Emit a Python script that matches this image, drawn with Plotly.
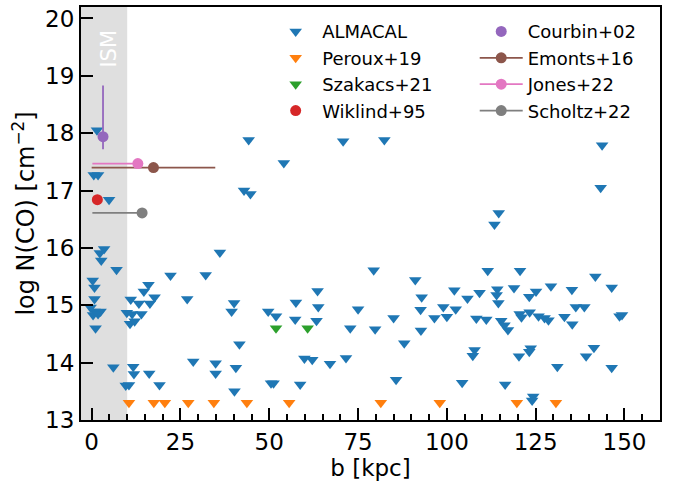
import plotly.graph_objects as go

# ALMACAL upper limits (b [kpc], log N(CO))
alma_b = [1.5, 0.6, 1.8, 4.9, 44.2, 42.9, 44.7, 54.1, 70.8, 82.4, 143.7, 143.3, 114.6, 113.4,
          3.5, 2.3, 2.7, 7.0, 0.3, 0.8, 0.8, -0.3, 0.8, 2.5, 0.4, 1.8, 1.1,
          11.0, 9.9, 11.4, 10.8, 13.3, 14.0, 12.1, 14.7, 16.0, 17.7, 16.4, 22.2, 26.9, 32.1, 36.1,
          6.1, 11.7, 11.9, 16.2, 10.5, 9.6, 19.1, 28.6, 34.9, 34.9,
          40.1, 39.4, 49.7, 51.9, 57.5, 63.6, 63.8, 57.3, 63.3, 75.0, 72.8, 41.6, 40.6, 59.9, 62.1,
          67.1, 71.6, 50.5, 51.2, 58.7, 40.2,
          79.4, 91.1, 92.9, 92.6, 85.0, 79.8, 92.7, 88.0, 96.5, 99.0, 100.0, 102.1, 102.5, 105.8,
          108.3, 111.1, 109.2, 111.5, 107.8, 107.3, 85.7, 104.3,
          114.2, 114.0, 114.5, 120.6, 118.9, 123.2, 125.1, 129.3, 135.2, 141.8, 146.4, 136.3, 138.7,
          120.5, 121.0, 123.3, 125.8, 127.5, 128.6, 133.1, 135.3, 148.6, 149.3, 115.3, 116.2, 117.2,
          123.6, 123.2, 120.3, 141.4, 139.2, 131.1, 146.4, 116.4, 124.3, 124.0]
alma_n = [18.05, 17.27, 17.27, 16.84, 17.88, 17.0, 16.94, 17.48, 17.86, 17.88, 17.79, 17.05, 16.61, 16.41,
          15.98, 15.91, 15.78, 15.62, 15.43, 15.31, 15.11, 14.96, 14.89, 14.89, 14.83, 14.85, 14.6,
          15.1, 14.87, 14.85, 14.68, 15.03, 14.85, 14.72, 15.24, 15.36, 15.14, 15.03, 15.52, 15.11, 15.53, 15.92,
          13.92, 13.93, 13.8, 13.81, 13.61, 13.6, 13.61, 14.02, 13.99, 13.81,
          15.04, 14.89, 14.89, 14.81, 15.05, 15.25, 14.97, 14.75, 14.73, 14.93, 14.6, 14.32, 13.91, 14.07, 14.05,
          13.98, 14.08, 13.64, 13.64, 13.62, 13.5,
          15.61, 15.44, 15.14, 14.92, 14.78, 14.58, 14.56, 14.34, 14.78, 14.97, 14.8, 15.26, 14.93, 15.12,
          14.77, 14.75, 15.22, 15.6, 14.22, 14.12, 13.7, 13.65,
          15.28, 15.18, 15.04, 15.6, 15.3, 15.15, 15.24, 15.33, 15.27, 15.5, 15.31, 14.97, 14.97,
          14.85, 14.79, 14.88, 14.81, 14.78, 14.74, 14.8, 14.67, 14.81, 14.83, 14.73, 14.65, 14.57,
          14.25, 14.19, 14.11, 14.26, 14.11, 13.93, 13.91, 13.62, 13.41, 13.34]

peroux_b = [10.5, 17.5, 20.6, 27.2, 34.4, 43.7, 55.6, 81.4, 98.0, 119.7, 130.7]
peroux_n = [13.3] * len(peroux_b)

szakacs_b = [51.9, 60.8]
szakacs_n = [14.6, 14.6]

wiklind_b = [1.6]
wiklind_n = [16.84]

courbin_b = [3.2]
courbin_n = [17.94]
courbin_err_up = [0.89]
courbin_err_dn = [0.22]

emonts_b = [17.4]
emonts_n = [17.4]
emonts_xerr = [17.4]

jones_b = [13.0]
jones_n = [17.47]
jones_xerr_dn = [12.8]

scholtz_b = [14.2]
scholtz_n = [16.61]
scholtz_xerr_dn = [14.0]

ism_edge = 10

C = ['#1f77b4', '#ff7f0e', '#2ca02c', '#d62728', '#9467bd', '#8c564b', '#e377c2', '#7f7f7f']
FONT = 'DejaVu Sans'

fig = go.Figure()

tri = dict(symbol='triangle-down', size=11, line=dict(width=0))
fig.add_trace(go.Scatter(x=alma_b, y=alma_n, mode='markers', name='ALMACAL',
                         marker=dict(color=C[0], **tri), legend='legend', legendgroup='a'))
fig.add_trace(go.Scatter(x=peroux_b, y=peroux_n, mode='markers', name='Peroux+19',
                         marker=dict(color=C[1], **tri), legend='legend', legendgroup='b'))
fig.add_trace(go.Scatter(x=szakacs_b, y=szakacs_n, mode='markers', name='Szakacs+21',
                         marker=dict(color=C[2], **tri), legend='legend', legendgroup='c'))
fig.add_trace(go.Scatter(x=wiklind_b, y=wiklind_n, mode='markers', name='Wiklind+95',
                         marker=dict(color=C[3], size=11), legend='legend', legendgroup='d'))

fig.add_trace(go.Scatter(x=courbin_b, y=courbin_n, mode='markers', name='Courbin+02',
                         marker=dict(color=C[4], size=11),
                         error_y=dict(type='data', symmetric=False, array=courbin_err_up,
                                      arrayminus=courbin_err_dn, color=C[4], thickness=1.8, width=0),
                         legend='legend2', legendgroup='e'))
fig.add_trace(go.Scatter(x=emonts_b, y=emonts_n, mode='lines+markers', name='Emonts+16',
                         marker=dict(color=C[5], size=11), line=dict(color=C[5], width=1.8),
                         error_x=dict(type='data', array=emonts_xerr, color=C[5], thickness=1.8, width=0),
                         legend='legend2', legendgroup='f'))
fig.add_trace(go.Scatter(x=jones_b, y=jones_n, mode='lines+markers', name='Jones+22',
                         marker=dict(color=C[6], size=11), line=dict(color=C[6], width=1.8),
                         error_x=dict(type='data', symmetric=False, array=[0], arrayminus=jones_xerr_dn,
                                      color=C[6], thickness=1.8, width=0),
                         legend='legend2', legendgroup='g'))
fig.add_trace(go.Scatter(x=scholtz_b, y=scholtz_n, mode='lines+markers', name='Scholtz+22',
                         marker=dict(color=C[7], size=11), line=dict(color=C[7], width=1.8),
                         error_x=dict(type='data', symmetric=False, array=[0], arrayminus=scholtz_xerr_dn,
                                      color=C[7], thickness=1.8, width=0),
                         legend='legend2', legendgroup='h'))

fig.add_shape(type='rect', xref='x', yref='paper', x0=-3, x1=ism_edge, y0=0, y1=1,
              fillcolor='#dfdfdf', line=dict(width=0), layer='below')
fig.add_annotation(x=4.8, y=19.47, xref='x', yref='y', text='ISM', showarrow=False,
                   textangle=-90, font=dict(family=FONT, size=21, color='white'))

leg = dict(font=dict(family=FONT, size=18, color='black'), bgcolor='rgba(0,0,0,0)',
           borderwidth=0, tracegroupgap=0, itemwidth=43, yanchor='top', xanchor='left')
fig.update_layout(
    width=676, height=483,
    margin=dict(l=81, r=16, t=5, b=63),
    plot_bgcolor='white', paper_bgcolor='white',
    font=dict(family=FONT, size=24, color='black'),
    legend=dict(x=0.325, y=0.985, **leg),
    legend2=dict(x=0.68, y=0.985, **leg),
    showlegend=True,
)
fig.update_xaxes(range=[-3, 160], dtick=25, tick0=0, ticks='inside', ticklen=12, tickwidth=2,
                 tickcolor='black', showgrid=False, zeroline=False,
                 showline=True, linecolor='black', linewidth=2, mirror=True,
                 minor=dict(ticks='inside', dtick=5, tick0=0, ticklen=6, tickwidth=1.5, tickcolor='black',
                            showgrid=False),
                 title=dict(text='b [kpc]', font=dict(family=FONT, size=23), standoff=4),
                 tickfont=dict(family=FONT, size=23))
fig.update_yaxes(range=[13, 20.2], dtick=1, tick0=13, ticks='inside', ticklen=12, tickwidth=2,
                 tickcolor='black', showgrid=False, zeroline=False,
                 showline=True, linecolor='black', linewidth=2, mirror=True,
                 title=dict(text='log N(CO) [cm<sup>−2</sup>]', font=dict(family=FONT, size=24), standoff=4),
                 tickfont=dict(family=FONT, size=23))

fig.write_html('out.html')
